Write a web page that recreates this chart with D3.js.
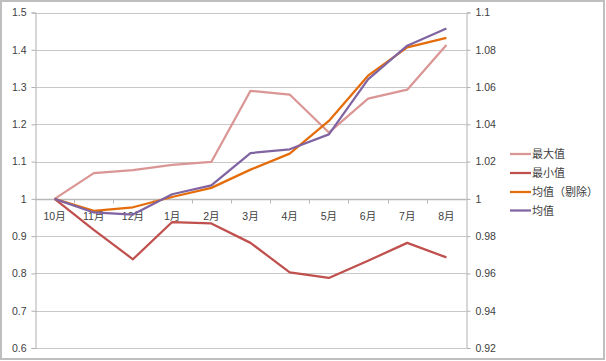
<!DOCTYPE html>
<html><head><meta charset="utf-8">
<script src="https://cdn.jsdelivr.net/npm/d3@7"></script>
<style>
html,body{margin:0;padding:0;background:#fff;}
svg{display:block;}
text{font-family:"Liberation Sans","Noto Sans CJK SC",sans-serif;}
</style></head>
<body><svg id="c" width="606" height="361"></svg>
<script>
const categories = ["10月","11月","12月","1月","2月","3月","4月","5月","6月","7月","8月"];
const maxValues  = [1.0, 1.069, 1.077, 1.091, 1.099, 1.290, 1.280, 1.178, 1.269, 1.293, 1.413];
const minValues  = [1.0, 0.917, 0.838, 0.938, 0.934, 0.882, 0.803, 0.788, 0.834, 0.882, 0.843];
const avgTrimmed = [1.0, 0.9936, 0.9955, 1.0010, 1.0059, 1.0157, 1.0243, 1.0418, 1.0661, 1.0813, 1.0864];
const avgValues  = [1.0, 0.9927, 0.9916, 1.0025, 1.0073, 1.0246, 1.0266, 1.0346, 1.0641, 1.0822, 1.0914];
const leftTicks  = [0.6,0.7,0.8,0.9,1.0,1.1,1.2,1.3,1.4,1.5];
const rightTicks = [0.92,0.94,0.96,0.98,1.0,1.02,1.04,1.06,1.08,1.1];
const seriesNames = ["最大值","最小值","均值（剔除）","均值"];
const seriesColors = ["#d99694","#c0504d","#e46c0a","#8064a2"];

const svg = d3.select("#c");
const L = 35, R = 466, T = 12.5, B = 348;
const x = d3.scaleBand().domain(categories).range([L, R]).padding(0);
const yL = d3.scaleLinear().domain([0.6, 1.5]).range([B, T]);
const yR = d3.scaleLinear().domain([0.92, 1.1]).range([B, T]);

// border
svg.append("rect").attr("x",1).attr("y",1).attr("width",603).attr("height",358)
  .attr("fill","#fff").attr("stroke","#bfbfbf").attr("stroke-width",2);

// gridlines
svg.append("g").selectAll("line").data(leftTicks).join("line")
  .attr("x1", L).attr("x2", R)
  .attr("y1", d => Math.round(yL(d)) + 0.5).attr("y2", d => Math.round(yL(d)) + 0.5)
  .attr("stroke", "#c8c8c8").attr("stroke-width", 1);

// left axis
const gl = svg.append("g").attr("transform", `translate(${L + 0.5},0)`)
  .call(d3.axisLeft(yL).tickValues(leftTicks).tickSize(4).tickPadding(5)
    .tickFormat(d => d3.format("")(+d.toFixed(1))));
gl.select(".domain").attr("stroke", "#b0b0b0");
gl.selectAll(".tick line").attr("stroke", "#b0b0b0");
gl.selectAll("text").attr("font-size", "10.5px").attr("fill", "#404040");

// right axis
const gr = svg.append("g").attr("transform", `translate(${R + 0.5},0)`)
  .call(d3.axisRight(yR).tickValues(rightTicks).tickSize(4).tickPadding(5)
    .tickFormat(d => String(+d.toFixed(2))));
gr.select(".domain").attr("stroke", "#b0b0b0");
gr.selectAll(".tick line").attr("stroke", "#b0b0b0");
gr.selectAll("text").attr("font-size", "10.5px").attr("fill", "#404040");

// category axis at value 1
const y0 = Math.round(yL(1)) + 0.5;
const gx = svg.append("g").attr("transform", `translate(0,${y0})`);
gx.append("line").attr("x1", L).attr("x2", R).attr("stroke", "#b8b8b8").attr("stroke-width", 1.5);
const bounds = categories.map(c => x(c)).concat([R]);
gx.selectAll("line.tk").data(bounds.slice(1, -1)).join("line").attr("class","tk")
  .attr("x1", d => Math.round(d) + 0.5).attr("x2", d => Math.round(d) + 0.5)
  .attr("y1", 0).attr("y2", 4).attr("stroke", "#b8b8b8");
gx.selectAll("text").data(categories).join("text")
  .attr("x", d => x(d) + x.bandwidth() / 2).attr("y", 20)
  .attr("text-anchor", "middle").attr("font-size", "10.5px").attr("fill", "#404040")
  .text(d => d);

// lines
const cx = c => x(c) + x.bandwidth() / 2;
const series = [
  {vals: maxValues, scale: yL},
  {vals: minValues, scale: yL},
  {vals: avgTrimmed, scale: yR},
  {vals: avgValues, scale: yR}
];
series.forEach((s, i) => {
  const line = d3.line().x((d, j) => cx(categories[j])).y(d => s.scale(d));
  svg.append("path").datum(s.vals).attr("d", line)
    .attr("fill", "none").attr("stroke", seriesColors[i]).attr("stroke-width", 2.25)
    .attr("stroke-linejoin", "round");
});

// legend
const lg = svg.append("g");
const ly = [154, 173, 192, 210.5];
seriesNames.forEach((n, i) => {
  lg.append("line").attr("x1", 510).attr("x2", 531).attr("y1", ly[i]).attr("y2", ly[i])
    .attr("stroke", seriesColors[i]).attr("stroke-width", 2.25);
  lg.append("text").attr("x", 532).attr("y", ly[i] + 4).attr("font-size", "11px")
    .attr("fill", "#404040").attr("font-family", "Noto Sans CJK SC").text(n);
});
</script></body></html>
